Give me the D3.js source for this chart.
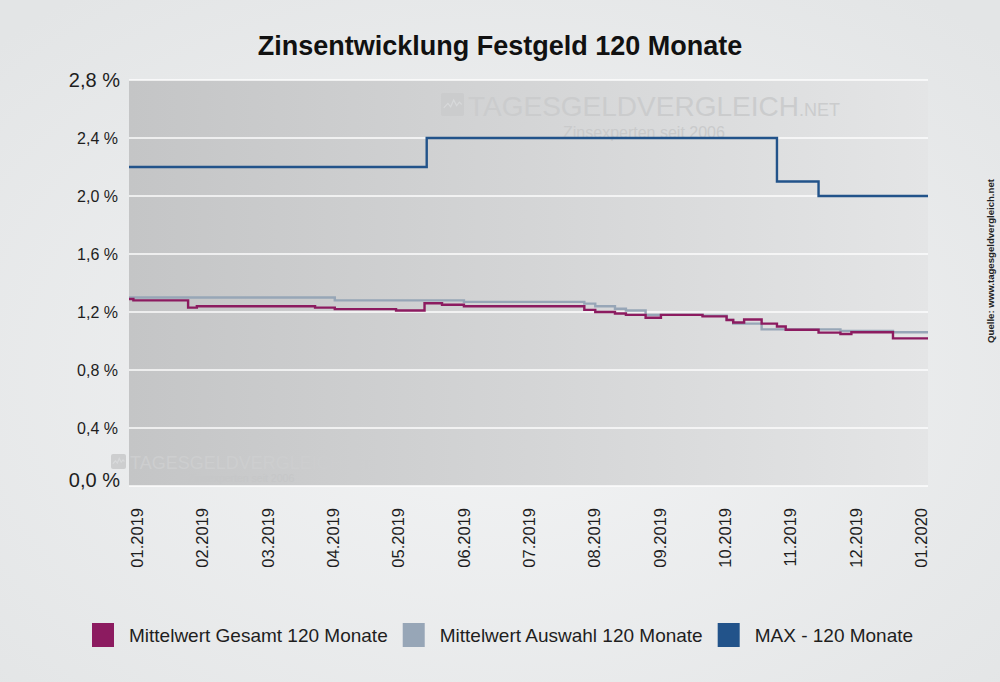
<!DOCTYPE html>
<html>
<head>
<meta charset="utf-8">
<script src="https://cdn.jsdelivr.net/npm/d3@7/dist/d3.min.js"></script>
<style>
  html, body { margin: 0; padding: 0; background: #eceeef; }
  svg { display: block; }
  text { font-family: "Liberation Sans", Arial, sans-serif; }
</style>
</head>
<body>
<svg id="chart" width="1000" height="682"></svg>
<script>
// ---------- DATA ----------
const chartTitle = "Zinsentwicklung Festgeld 120 Monate";
const monthLabels = ["01.2019","02.2019","03.2019","04.2019","05.2019","06.2019","07.2019",
                     "08.2019","09.2019","10.2019","11.2019","12.2019","01.2020"];
const yTickValues = [0, 0.4, 0.8, 1.2, 1.6, 2.0, 2.4, 2.8];
const seriesNames = ["Mittelwert Gesamt 120 Monate", "Mittelwert Auswahl 120 Monate", "MAX - 120 Monate"];
const seriesColors = ["#8c1b60", "#97a6b7", "#22538a"];

// step change points (date, value in %)
const gesamtDates  = ["2019-01-01","2019-01-03","2019-01-28","2019-02-01","2019-03-27","2019-04-05",
                      "2019-05-03","2019-05-16","2019-05-24","2019-06-03","2019-07-28","2019-08-02",
                      "2019-08-11","2019-08-16","2019-08-25","2019-09-01","2019-09-20","2019-10-01",
                      "2019-10-04","2019-10-09","2019-10-17","2019-10-24","2019-10-28","2019-11-12",
                      "2019-11-22","2019-11-27","2019-12-16","2020-01-01"];
const gesamtValues = [1.29, 1.28, 1.23, 1.24, 1.23, 1.22,
                      1.21, 1.26, 1.25, 1.24, 1.215, 1.20,
                      1.19, 1.18, 1.16, 1.18, 1.17, 1.145,
                      1.128, 1.148, 1.12, 1.10, 1.078, 1.058,
                      1.048, 1.06, 1.018, 1.018];

const auswahlDates  = ["2019-01-01","2019-04-05","2019-06-03","2019-07-28","2019-08-02","2019-08-11",
                       "2019-08-16","2019-08-25","2019-09-20","2019-10-01","2019-10-04","2019-10-17",
                       "2019-11-22","2019-12-16","2020-01-01"];
const auswahlValues = [1.30, 1.28, 1.27, 1.258, 1.24, 1.222,
                       1.21, 1.18, 1.175, 1.146, 1.12, 1.08,
                       1.07, 1.06, 1.06];

const maxDates  = ["2019-01-01","2019-05-17","2019-10-24","2019-11-12","2020-01-01"];
const maxValues = [2.2, 2.4, 2.1, 2.0, 2.0];

// ---------- LAYOUT ----------
const svg = d3.select("#chart");
const W = 1000, H = 682;
const plot = { left: 129, right: 928, top: 80, bottom: 486 };
const parse = d3.utcParse("%Y-%m-%d");

const defs = svg.append("defs");
const bgGrad = defs.append("radialGradient").attr("id", "bgGrad")
  .attr("cx", "50%").attr("cy", "55%").attr("r", "70%");
bgGrad.append("stop").attr("offset", "0%").attr("stop-color", "#f3f4f5");
bgGrad.append("stop").attr("offset", "100%").attr("stop-color", "#e3e5e6");

const plotGrad = defs.append("linearGradient").attr("id", "plotGrad")
  .attr("x1", "0%").attr("y1", "0%").attr("x2", "100%").attr("y2", "0%");
plotGrad.append("stop").attr("offset", "0%").attr("stop-color", "#c4c5c6");
plotGrad.append("stop").attr("offset", "100%").attr("stop-color", "#e4e5e6");

svg.append("rect").attr("width", W).attr("height", H).attr("fill", "url(#bgGrad)");

// scales
const x = d3.scaleUtc()
  .domain([parse("2019-01-01"), parse("2020-01-01")])
  .range([plot.left, plot.right]);
const y = d3.scaleLinear().domain([0, 2.8]).range([plot.bottom, plot.top]);
const xLabel = d3.scalePoint().domain(monthLabels).range([plot.left + 8, plot.right - 7]);

// plot background
svg.append("rect")
  .attr("x", plot.left).attr("y", plot.top)
  .attr("width", plot.right - plot.left).attr("height", plot.bottom - plot.top)
  .attr("fill", "url(#plotGrad)");

// watermarks
function watermark(gx, gy, big, small, sub, subDx, subDy, fillMain, fillSub, iconSize) {
  const g = svg.append("g").attr("transform", `translate(${gx},${gy})`);
  g.append("rect").attr("x", 0).attr("y", -iconSize).attr("width", iconSize).attr("height", iconSize)
    .attr("rx", 2).attr("fill", fillMain);
  const s = iconSize;
  g.append("path")
    .attr("d", `M${s*0.12},${-s*0.35} L${s*0.3},${-s*0.55} L${s*0.42},${-s*0.4} L${s*0.55},${-s*0.7} L${s*0.68},${-s*0.45} L${s*0.8},${-s*0.6} L${s*0.9},${-s*0.5}`)
    .attr("fill", "none").attr("stroke", "#e0e1e2").attr("stroke-width", 1.2).attr("opacity", 0.6);
  const t = g.append("text").attr("x", iconSize + 4).attr("y", 0).attr("fill", fillMain)
    .attr("font-size", big);
  t.append("tspan").text("TAGESGELDVERGLEICH");
  t.append("tspan").attr("font-size", small).text(".NET");
  g.append("text").attr("x", subDx).attr("y", subDy).attr("fill", fillSub)
    .attr("font-size", sub).text("Zinsexperten seit 2006");
}
watermark(441, 116, 28, 18, 16, 122, 22, "#cbcccd", "#c9cacb", 23);
watermark(111, 469, 18, 12, 10.5, 77, 13, "#cdcecf", "#c6c7c8", 15);

// gridlines
svg.append("g").selectAll("line").data(yTickValues).join("line")
  .attr("x1", plot.left).attr("x2", plot.right)
  .attr("y1", d => y(d)).attr("y2", d => y(d))
  .attr("stroke", "#ffffff").attr("stroke-width", 1.6).attr("opacity", 0.95);

// y axis labels
svg.append("g").selectAll("text").data(yTickValues).join("text")
  .attr("x", d => (d === 0 || d === 2.8) ? 120 : 118)
  .attr("y", d => y(d) + (d === 0 ? -6 : 0))
  .attr("dy", "0.36em")
  .attr("text-anchor", "end")
  .attr("font-size", d => (d === 0 || d === 2.8) ? 20 : 16)
  .attr("fill", "#1e1e1e")
  .text(d => d3.format(".1f")(d).replace(".", ",") + " %");

// x axis labels
svg.append("g").selectAll("text").data(monthLabels).join("text")
  .attr("transform", d => `translate(${xLabel(d)},508) rotate(-90)`)
  .attr("text-anchor", "end")
  .attr("dy", "0.36em")
  .attr("font-size", 16.5)
  .attr("fill", "#1e1e1e")
  .text(d => d);

// lines
const line = d3.line().x(d => x(d.date)).y(d => y(d.value)).curve(d3.curveStepAfter);
function toSeries(dates, values) { return dates.map((d, i) => ({ date: parse(d), value: values[i] })); }
const series = [
  { data: toSeries(auswahlDates, auswahlValues), color: seriesColors[1] },
  { data: toSeries(gesamtDates, gesamtValues), color: seriesColors[0] },
  { data: toSeries(maxDates, maxValues), color: seriesColors[2] }
];
svg.append("g").selectAll("path").data(series).join("path")
  .attr("d", d => line(d.data))
  .attr("fill", "none")
  .attr("stroke", d => d.color)
  .attr("stroke-width", 2.4)
  .attr("stroke-linejoin", "miter");

// title
svg.append("text").attr("x", 500).attr("y", 55).attr("text-anchor", "middle")
  .attr("font-size", 27).attr("font-weight", "bold").attr("fill", "#111").text(chartTitle);

// legend
const legend = svg.append("g");
let lx = 92;
seriesNames.forEach((name, i) => {
  legend.append("rect").attr("x", lx).attr("y", 623).attr("width", 22).attr("height", 24)
    .attr("fill", seriesColors[i]);
  const t = legend.append("text").attr("x", lx + 37).attr("y", 642)
    .attr("font-size", 19).attr("fill", "#1e1e1e").text(name);
  lx = lx + 37 + t.node().getComputedTextLength() + 15;
});

// source
svg.append("text")
  .attr("transform", "translate(991,261) rotate(-90)")
  .attr("text-anchor", "middle").attr("dy", "0.35em")
  .attr("font-size", 9.6).attr("font-weight", "bold").attr("fill", "#222")
  .text("Quelle: www.tagesgeldvergleich.net");
</script>
</body>
</html>
